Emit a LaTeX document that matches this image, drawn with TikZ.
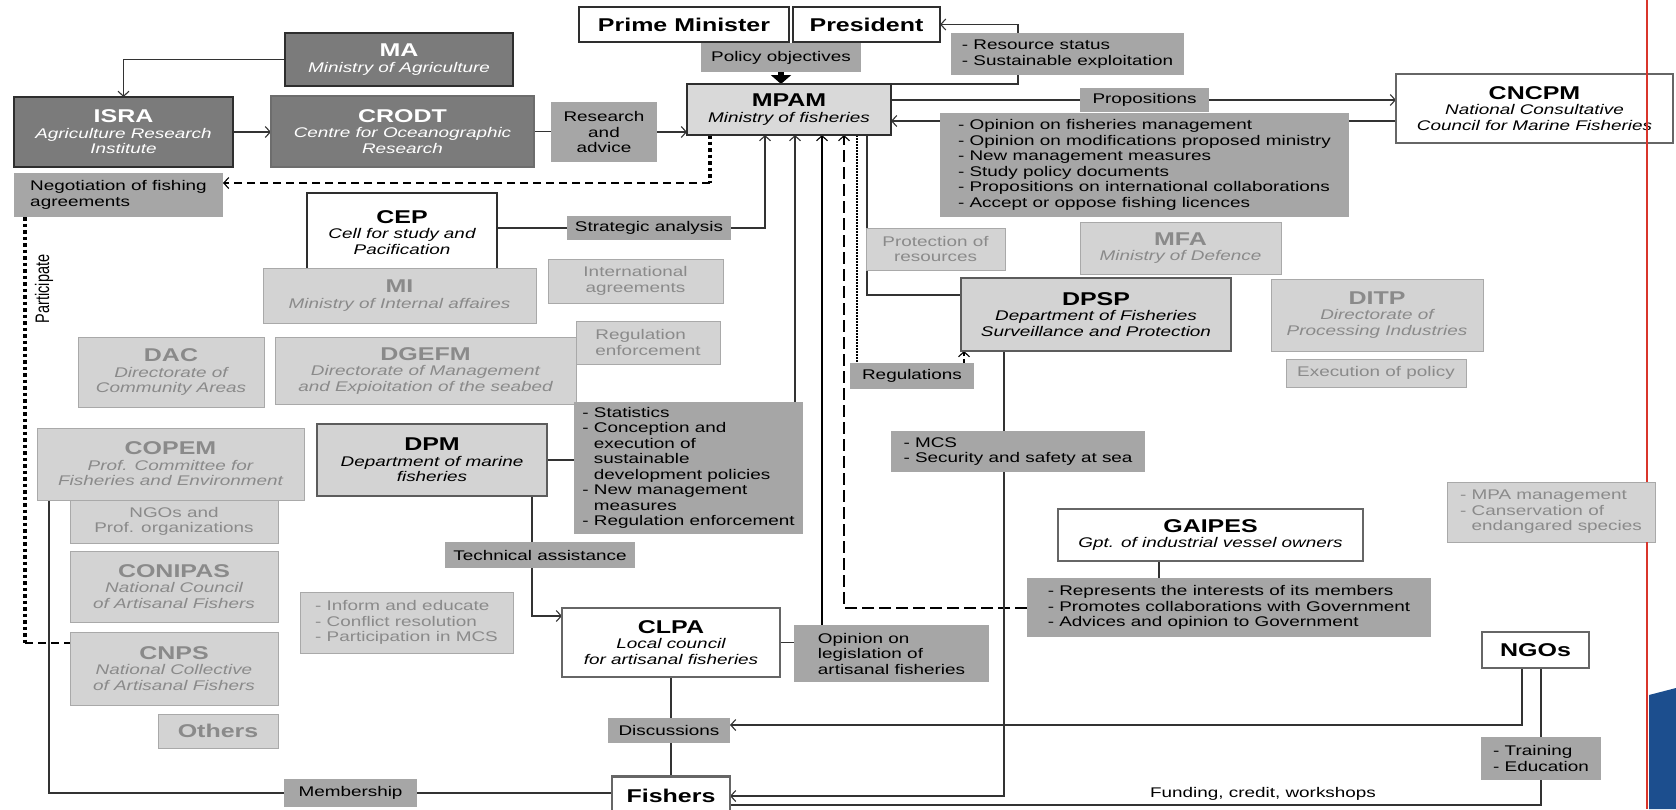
\documentclass[tikz,border=0pt]{standalone}
\usepackage{fontspec}
\setmainfont{Liberation Sans}[FakeStretch=1.35]
\newfontfamily\plainsans{Liberation Sans}
\usetikzlibrary{arrows.meta}
\definecolor{dkfill}{HTML}{7B7B7B}
\definecolor{dkline}{HTML}{2E2E2E}
\definecolor{midfill}{HTML}{A6A6A6}
\definecolor{ltfill}{HTML}{D3D3D3}
\definecolor{ltline}{HTML}{A9A9A9}
\definecolor{lttext}{HTML}{8A8A8A}
\definecolor{mpfill}{HTML}{D9D9D9}
\definecolor{thkline}{HTML}{666666}
\definecolor{lnc}{HTML}{333333}
\definecolor{slidered}{HTML}{D9352B}
\definecolor{slideblue}{HTML}{1C4E8E}
\newcommand{\ttl}[1]{{\fontsize{18.5}{21}\selectfont\bfseries #1}}
\newcommand{\subt}[1]{{\itshape #1}}
\pgfdeclarelayer{bg}
\pgfdeclarelayer{lines}
\pgfsetlayers{bg,lines,main}
\tikzset{
 every node/.style={inner sep=0pt, outer sep=0pt, align=center, font=\fontsize{14}{15.5}\selectfont},
 dark/.style={draw=dkline, line width=1.2pt, fill=dkfill, text=white},
 darkthick/.style={draw=dkline!70, line width=2.5pt, fill=dkfill, text=white},
 mid/.style={fill=midfill, text=black},
 light/.style={draw=ltline, line width=1pt, fill=ltfill, text=lttext},
 wthin/.style={draw=dkline, line width=1.2pt, fill=white},
 wthick/.style={draw=thkline, line width=2.5pt, fill=white},
 gthick/.style={draw=thkline!90!black, line width=2.5pt, fill=ltfill},
 gthin/.style={draw=dkline, line width=1.2pt, fill=mpfill},
 wh/.style 2 args={minimum width=#1pt, minimum height=#2pt},
 conn/.style={draw=lnc, line width=1.2pt},
 arr/.style={conn, -{Straight Barb[length=5pt,width=11pt,line width=1.1pt]}},
 thkdot/.style={draw=black, line width=3.4pt, dash pattern=on 3.5pt off 3pt},
 ngdash/.style={draw=black, line width=2pt, dash pattern=on 8pt off 5pt},
 ldash/.style={draw=black, line width=2pt, dash pattern=on 12pt off 5pt},
 fdot/.style={draw=black, line width=1.2pt, dash pattern=on 1.5pt off 1.5pt},
 sdash/.style={draw=black, line width=1.4pt, dash pattern=on 4pt off 3pt},
}
\begin{document}
\begin{tikzpicture}[x=1pt,y=-1pt]
\begin{pgfonlayer}{bg}
\fill[white] (0,0) rectangle (1676,809);
\end{pgfonlayer}
\useasboundingbox (0,0) rectangle (1676,809);

% ---------- nodes ----------
\node[dark, wh={228}{53}] (ma) at (399,59.5) {\ttl{MA}\\\subt{Ministry of Agriculture}};
\node[dark, wh={219}{70}] (isra) at (123.5,132) {\ttl{ISRA}\\\subt{Agriculture Research}\\\subt{Institute}};
\node[darkthick, wh={263}{71}] (crodt) at (402.5,131.5) {\ttl{CRODT}\\\subt{Centre for Oceanographic}\\\subt{Research}};
\node[mid, wh={209}{44}, align=left] (nego) at (118.5,195) {Negotiation of fishing\\agreements};
\node[wthin, wh={210}{35}] (pm) at (684,24.5) {\ttl{Prime Minister}};
\node[wthin, wh={147}{35}] (pres) at (866.5,24.5) {\ttl{President}};
\node[mid, wh={160}{29}] (pol) at (781,57.5) {Policy objectives};
\node[gthin, wh={204}{51}] (mpam) at (789,109.5) {\ttl{MPAM}\\\subt{Ministry of fisheries}};
\node[mid, wh={106}{60}] (res) at (604,132) {Research\\and\\advice};
\node[mid, wh={233}{42}, align=left] (rstat) at (1067.5,54) {- Resource status\\- Sustainable exploitation};
\node[mid, wh={129}{24}] (prop) at (1144.5,100) {Propositions};
\node[wthick, wh={277}{69}] (cncpm) at (1534.5,108.5) {\ttl{CNCPM}\\\subt{National Consultative}\\\subt{Council for Marine Fisheries}};
\node[mid, wh={409}{104}, align=left] (opl) at (1144.5,165) {- Opinion on fisheries management\\- Opinion on modifications proposed ministry\\- New management measures\\- Study policy documents\\- Propositions on international collaborations\\- Accept or oppose fishing licences};
\node[wthin, wh={190}{79}] (cep) at (402,232.5) {\ttl{CEP}\\\subt{Cell for study and}\\\subt{Pacification}};
\node[mid, wh={164}{24}] (strat) at (649,228) {Strategic analysis};
\node[light, wh={273}{55}] (mi) at (399.5,295.5) {\ttl{MI}\\\subt{Ministry of Internal affaires}};
\node[light, wh={175}{44}] (intl) at (635.5,281) {International\\agreements};
\node[light, wh={186}{70}] (dac) at (171,372) {\ttl{DAC}\\\subt{Directorate of}\\\subt{Community Areas}};
\node[light, wh={301}{67}] (dgefm) at (425.5,370.5) {\ttl{DGEFM}\\\subt{Directorate of Management}\\\subt{and Expioitation of the seabed}};
\node[light, wh={144}{43}, align=left] (regenf) at (648,342.5) {Regulation\\enforcement};
\node[light, wh={139}{42}] (prot) at (935.5,249) {Protection of\\resources};
\node[light, wh={201}{52}] (mfa) at (1180.5,248) {\ttl{MFA}\\\subt{Ministry of Defence}};
\node[gthick, wh={270}{73}] (dpsp) at (1096,314.5) {\ttl{DPSP}\\\subt{Department of Fisheries}\\\subt{Surveillance and Protection}};
\node[mid, wh={124}{26}] (reg) at (912,376) {Regulations};
\node[light, wh={212}{72}] (ditp) at (1377,315) {\ttl{DITP}\\\subt{Directorate of}\\\subt{Processing Industries}};
\node[light, wh={180}{28}] (exec) at (1376,373) {Execution of policy};
\node[light, wh={267}{72}] (copem) at (170.5,464) {\ttl{COPEM}\\\subt{Prof. Committee for}\\\subt{Fisheries and Environment}};
\node[gthick, wh={230}{72}] (dpm) at (432,460) {\ttl{DPM}\\\subt{Department of marine}\\\subt{fisheries}};
\node[mid, wh={229}{132}, align=left] (dpml) at (688.5,468) {- Statistics\\- Conception and\\\phantom{- }execution of\\\phantom{- }sustainable\\\phantom{- }development policies\\- New management\\\phantom{- }measures\\- Regulation enforcement};
\node[light, wh={208}{43}] (ngop) at (174,521.5) {NGOs and\\Prof. organizations};
\node[mid, wh={190}{26}] (tech) at (540,555) {Technical assistance};
\node[light, wh={208}{71}] (conipas) at (174,586.5) {\ttl{CONIPAS}\\\subt{National Council}\\\subt{of Artisanal Fishers}};
\node[light, wh={208}{73}] (cnps) at (174,668.5) {\ttl{CNPS}\\\subt{National Collective}\\\subt{of Artisanal Fishers}};
\node[light, wh={120}{34}] (others) at (218,731) {\ttl{Others}};
\node[light, wh={213}{61}, align=left] (inform) at (406.5,622.5) {- Inform and educate\\- Conflict resolution\\- Participation in MCS};
\node[wthick, wh={218}{69}] (clpa) at (671,642.5) {\ttl{CLPA}\\\subt{Local council}\\\subt{for artisanal fisheries}};
\node[mid, wh={195}{57}, align=left] (opleg) at (891.5,653.5) {Opinion on\\legislation of\\artisanal fisheries};
\node[mid, wh={122}{25}] (disc) at (669,730.5) {Discussions};
\node[wthick, wh={118}{39}] (fish) at (671,796) {\ttl{Fishers}};
\node[mid, wh={133}{28}] (memb) at (350.5,793) {Membership};
\node[mid, wh={254}{41}, align=left] (mcs) at (1018,451.5) {- MCS\\- Security and safety at sea};
\node[wthick, wh={305}{52}] (gai) at (1210.5,535) {\ttl{GAIPES}\\\subt{Gpt. of industrial vessel owners}};
\node[mid, wh={404}{59}, align=left] (gail) at (1229,607.5) {- Represents the interests of its members\\- Promotes collaborations with Government\\- Advices and opinion to Government};
\node[light, wh={208}{60}, align=left] (mpa) at (1551,512) {- MPA management\\- Canservation of\\\phantom{- }endangared species};
\node[wthick, wh={107}{36}] (ngo) at (1535.5,650) {\ttl{NGOs}};
\node[mid, wh={120}{43}, align=left] (train) at (1541,758.5) {- Training\\- Education};
\node (fund) at (1263,794) {Funding, credit, workshops};
\node[font=\plainsans\fontsize{14.5}{15}\selectfont] (part) at (44,289) {\scalebox{1.35}[1]{\rotatebox{90}{Participate}}};

% ---------- coordinates ----------
\coordinate (m1) at (765,135);
\coordinate (m2) at (795,135);
\coordinate (m3) at (822,135);
\coordinate (m4) at (844,135);
\coordinate (m5) at (857,135);
\coordinate (m6) at (867,135);
\coordinate (pr1) at (1018,84);
\coordinate (oy) at (0,121);
\coordinate (ng1) at (710,135);
\coordinate (ng2) at (710,183);
\coordinate (d6) at (867,295);
\coordinate (rg) at (964,363);
\coordinate (s1) at (1004,351);
\coordinate (gb) at (1159,561);
\coordinate (tA) at (532,496);
\coordinate (tB) at (532,616);
\coordinate (cp) at (49,500);
\coordinate (pA) at (25,217);
\coordinate (pB) at (25,643);
\coordinate (g1) at (1522,668);
\coordinate (g2) at (1522,725);
\coordinate (h1) at (1541,668);
\coordinate (h2) at (1541,805);

% ---------- connectors ----------
\begin{pgfonlayer}{lines}
\draw[arr] (ma.west) -| (isra.north);
\draw[arr] (isra.east) -- (isra.east -| crodt.west);
\draw[conn] (crodt.east) -- (crodt.east -| res.west);
\draw[arr] (res.east) -- (res.east -| mpam.west);
\draw[draw=black, line width=6pt, -{Triangle[length=9pt, width=20pt]}] (pol.south) -- (pol.south |- mpam.north);
\draw[arr] (mpam.north east) -- (pr1) |- (pres.east);
\draw[conn] (prop.west -| mpam.east) -- (prop.west);
\draw[arr] (prop.east) -- (prop.east -| cncpm.west);
\draw[conn] (oy -| cncpm.west) -- (oy -| opl.east);
\draw[arr] (oy -| opl.west) -- (oy -| mpam.east);
\draw[thkdot] (ng1) -- (ng2);
\draw[ngdash, -{Straight Barb[length=5pt,width=11pt,line width=1.1pt]}] (ng2) -- (ng2 -| nego.east);
\draw[conn] (strat.west -| cep.east) -- (strat.west);
\draw[arr] (strat.east) -| (m1);
\draw[arr] (m2 |- dpml.north) -- (m2);
\draw[draw=black, line width=2pt, -{Straight Barb[length=5pt,width=11pt,line width=1.1pt]}] (m3 |- opleg.north) -- (m3);
\draw[ldash, -{Straight Barb[length=5pt,width=11pt,line width=1.1pt]}] (gail.west) -| (m4);
\draw[fdot] (m5) -- (m5 |- reg.north);
\draw[conn] (m6) -- (d6) -- (d6 -| dpsp.west);
\draw[sdash, -{Straight Barb[length=5pt,width=11pt,line width=1.1pt]}] (rg) -- (rg |- dpsp.south);
\draw[arr] (s1) |- (fish.east);
\draw[conn] (gb) -- (gb |- gail.north);
\draw[conn] (dpm.east) -- (dpm.east -| dpml.west);
\draw[arr] (tA) -- (tB) -- (tB -| clpa.west);
\draw[conn] (clpa.east) -- (clpa.east -| opleg.west);
\draw[conn] (clpa.south) -- (clpa.south |- fish.north);
\draw[conn] (cp) |- (memb.west);
\draw[conn] (memb.east) -- (memb.east -| fish.west);
\draw[thkdot] (pA) -- (pB);
\draw[ngdash] (pB) -- (pB -| cnps.west);
\draw[arr] (g1) -- (g2) -- (g2 -| disc.east);
\draw[conn] (h1) -- (h2) -- (h2 -| fish.east);
\end{pgfonlayer}

% ---------- slide decoration ----------
\draw[slidered, line width=2pt] (1647,0) -- (1647,482);
\draw[slidered, line width=2pt] (1647,542) -- (1647,809);
\fill[slideblue] (1649,695) -- (1676,688) -- (1676,809) -- (1649,809) -- cycle;
\end{tikzpicture}
\end{document}
